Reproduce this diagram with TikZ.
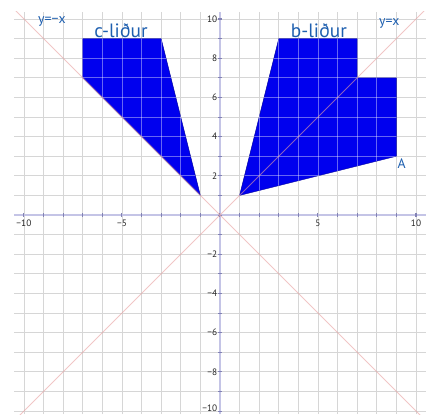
\documentclass[tikz,border=0pt]{standalone}
\usepackage{fontspec}
\setmainfont{PT Sans}
\usetikzlibrary{positioning}
\definecolor{gridgray}{RGB}{214,214,214}
\definecolor{axisblue}{RGB}{196,196,230}
\definecolor{tickblue}{RGB}{130,130,180}
\definecolor{linepink}{RGB}{232,160,160}
\definecolor{labelblue}{RGB}{30,95,175}
\definecolor{regionblue}{RGB}{0,0,238}

\begin{document}
\begin{tikzpicture}[
    gridline/.style={draw=gridgray, line width=1.2pt},
    axisline/.style={draw=axisblue, line width=3pt},
    tickmark/.style={draw=tickblue, line width=1.5pt},
    mirror/.style={draw=linepink, line width=1.3pt, opacity=0.6},
    region/.style={fill=regionblue, draw=blue!60!black, line width=0.6pt, line join=round},
    ticklabel/.style={font=\fontsize{13.5}{13.5}\selectfont, text=black!85, inner sep=1pt},
    linelabel/.style={font=\fontsize{20}{20}\selectfont, text=labelblue, inner sep=0pt, anchor=base},
    partlabel/.style={font=\fontsize{28}{28}\selectfont, text=labelblue, inner sep=0pt, anchor=base}
]
\useasboundingbox (-11.22,-10.15) rectangle (10.51,10.97);

% Grid
\foreach \k in {-10,...,10} {
  \draw[gridline] (\k,-10.15) -- (\k,10.36);
  \draw[gridline] (-10.5,\k) -- (10.51,\k);
}

% Shaded regions
\filldraw[region] (1,1) -- (3,9) -- (7,9) -- (7,7) -- (9,7) -- (9,3) -- cycle;
\filldraw[region] (-1,1) -- (-3,9) -- (-7,9) -- (-7,7) -- cycle;

% grid seen through the regions
\begin{scope}
  \clip (1,1) -- (3,9) -- (7,9) -- (7,7) -- (9,7) -- (9,3) -- cycle
        (-1,1) -- (-3,9) -- (-7,9) -- (-7,7) -- cycle;
  \foreach \k in {-10,...,10} {
    \draw[white, line width=1.2pt, opacity=0.4] (\k,0) -- (\k,10);
    \draw[white, line width=1.2pt, opacity=0.4] (-10,\k) -- (10,\k);
  }
\end{scope}

% Axes with ticks
\draw[axisline] (-10.5,0) -- (10.51,0);
\draw[axisline] (0,-10.15) -- (0,10.36);
\foreach \k in {-10,...,10} {
  \draw[tickmark] (\k,-0.08) -- (\k,0.08);
  \draw[tickmark] (-0.08,\k) -- (0.08,\k);
}

% Mirror lines y=x and y=-x
\begin{scope}
  \clip (-10.5,-10.15) rectangle (10.51,10.36);
  \draw[mirror] (-10.6,-10.6) -- (10.6,10.6);
  \draw[mirror] (-10.6,10.6) -- (10.6,-10.6);
\end{scope}

% Axis labels
\foreach \x in {-10,-5,5,10}
  \node[ticklabel, anchor=north] (xl\x) at (\x,-0.2) {\ifnum\x<0 −\fi\the\numexpr\ifnum\x<0 -\fi\x\relax};
\foreach \y in {-8,-6,-4,-2,2,4,6,8,10}
  \node[ticklabel, anchor=east] (yl\y) at (-0.1,\y) {\ifnum\y<0 −\fi\the\numexpr\ifnum\y<0 -\fi\y\relax};
\node[ticklabel, anchor=south east] (yl-10) at (-0.1,-10.06) {−10};

% Labels
\node[linelabel] (ynegx) at (-8.57,9.76) {y=−x};
\node[linelabel] (yposx) at (8.64,9.69) {y=x};
\node[partlabel] (cpart) at (-5.05,9.08) {c-liður};
\node[partlabel] (bpart) at (5.05,9.08) {b-liður};
\node[linelabel] (ptA) at (9.27,2.35) {A};

\end{tikzpicture}
\end{document}
